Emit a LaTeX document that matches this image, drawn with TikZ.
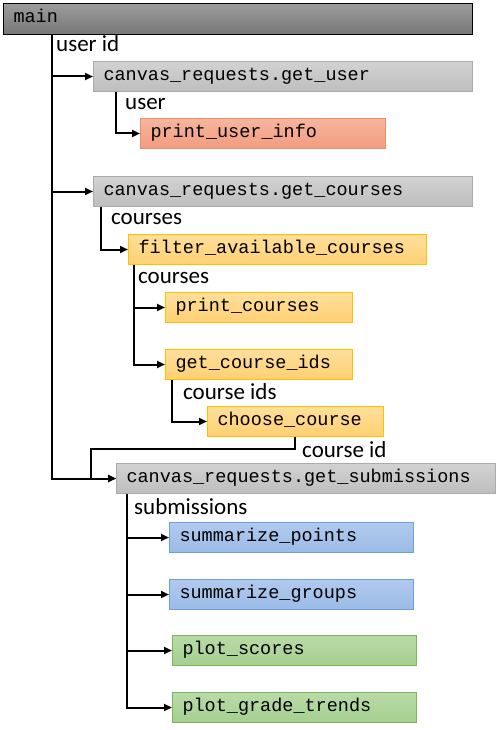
\documentclass[tikz,border=0pt]{standalone}
\usepackage{fontspec}
\setmainfont{Carlito}
\newfontfamily\codefont{Liberation Mono}
\usetikzlibrary{arrows.meta}
\definecolor{maintop}{HTML}{9C9C9C}
\definecolor{mainbot}{HTML}{777777}
\definecolor{reqtop}{HTML}{D2D2D2}
\definecolor{reqbot}{HTML}{BEBEBE}
\definecolor{reqline}{HTML}{ABABAB}
\definecolor{usrtop}{HTML}{F7B59E}
\definecolor{usrbot}{HTML}{F29C7E}
\definecolor{usrline}{HTML}{EE8F6A}
\definecolor{crstop}{HTML}{FFDF9C}
\definecolor{crsbot}{HTML}{FFD071}
\definecolor{crsline}{HTML}{FFC000}
\definecolor{subtop}{HTML}{B0CAEE}
\definecolor{subbot}{HTML}{9BBBE6}
\definecolor{subline}{HTML}{6E9FDC}
\definecolor{plttop}{HTML}{B9DBA8}
\definecolor{pltbot}{HTML}{A5CF8F}
\definecolor{pltline}{HTML}{7CB55A}
\tikzset{
  fn/.style={anchor=north west, inner xsep=10pt, inner ysep=0pt, minimum height=30pt,
             text height=12pt, text depth=4pt, align=left, line width=1pt,
             font=\codefont\fontsize{18.5}{20}\selectfont},
  mainfn/.style={fn, draw=black, top color=maintop, bottom color=mainbot},
  reqfn/.style={fn, draw=reqline, top color=reqtop, bottom color=reqbot},
  usrfn/.style={fn, draw=usrline, top color=usrtop, bottom color=usrbot},
  crsfn/.style={fn, draw=crsline, top color=crstop, bottom color=crsbot},
  subfn/.style={fn, draw=subline, top color=subtop, bottom color=subbot},
  pltfn/.style={fn, draw=pltline, top color=plttop, bottom color=pltbot},
  lbl/.style={anchor=west, inner sep=0pt, font=\fontsize{23}{26}\selectfont},
  flow/.style={line width=2pt, -{Triangle[length=8pt,width=7pt]}},
  pipe/.style={line width=2pt},
}
\begin{document}
\begin{tikzpicture}[x=1pt, y=-1pt]
  \useasboundingbox (0,0) rectangle (496,730);
  % boxes
  \node[mainfn, text width=449pt, minimum height=31pt] (main) at (3,3) {main};
  \node[reqfn, text width=359pt] (getuser) at (93,61) {canvas\_requests.get\_user};
  \node[usrfn, text width=225pt] (printuser) at (140,118) {print\_user\_info};
  \node[reqfn, text width=359pt] (getcourses) at (93,176) {canvas\_requests.get\_courses};
  \node[crsfn, text width=278pt] (filter) at (128,234) {filter\_available\_courses};
  \node[crsfn, text width=167pt] (printcourses) at (165,292) {print\_courses};
  \node[crsfn, text width=167pt] (getids) at (165,349) {get\_course\_ids};
  \node[crsfn, text width=156pt] (choose) at (207,406) {choose\_course};
  \node[reqfn, text width=359pt] (getsubs) at (116,463) {canvas\_requests.get\_submissions};
  \node[subfn, text width=224pt] (points) at (169,522) {summarize\_points};
  \node[subfn, text width=224pt] (groups) at (169,579) {summarize\_groups};
  \node[pltfn, text width=224pt] (scores) at (172,635) {plot\_scores};
  \node[pltfn, text width=224pt] (trends) at (172,692) {plot\_grade\_trends};
  % branch points
  \coordinate (m0) at ([xshift=49pt]main.south west);
  \coordinate (u0) at ([xshift=23pt]getuser.south west);
  \coordinate (c0) at ([xshift=8pt]getcourses.south west);
  \coordinate (f0) at ([xshift=6pt]filter.south west);
  \coordinate (i0) at ([xshift=7pt]getids.south west);
  \coordinate (k0) at ([xshift=88pt]choose.south west);
  \coordinate (kbend) at (91,449);
  \coordinate (s0) at ([xshift=11pt]getsubs.south west);
  % connectors
  \draw[flow] (m0) |- (getuser.west);
  \draw[flow] (m0) |- (getcourses.west);
  \draw[flow] (m0) |- (getsubs.west);
  \draw[flow] (u0) |- (printuser.west);
  \draw[flow] (c0) |- (filter.west);
  \draw[flow] (f0) |- (printcourses.west);
  \draw[flow] (f0) |- (getids.west);
  \draw[flow] (i0) |- (choose.west);
  \draw[flow] (k0) |- (kbend) |- (getsubs.west);
  \draw[flow] (s0) |- (points.west);
  \draw[flow] (s0) |- (groups.west);
  \draw[flow] (s0) |- (scores.west);
  \draw[flow] (s0) |- (trends.west);
  % labels
  \node[lbl] (luserid) at (56,44) {user id};
  \node[lbl] (luser) at (125,104) {user};
  \node[lbl] (lcourses) at (111,219) {courses};
  \node[lbl] (lfilter) at (138,278) {courses};
  \node[lbl] (lids) at (183,392) {course ids};
  \node[lbl] (lcid) at (302,450) {course id};
  \node[lbl] (lsubs) at (134,507) {submissions};
\end{tikzpicture}
\end{document}
